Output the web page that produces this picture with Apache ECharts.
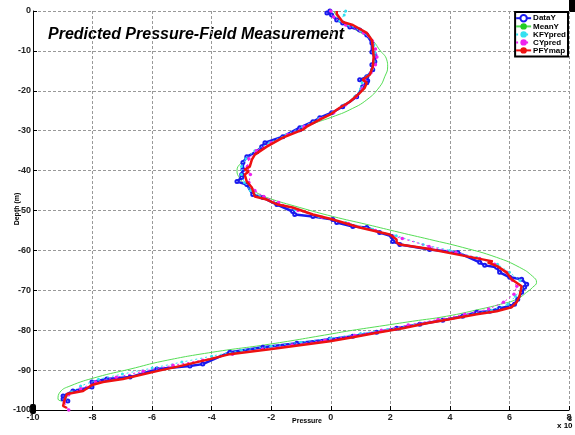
<!DOCTYPE html>
<html>
<head>
<meta charset="utf-8">
<script src="https://cdn.jsdelivr.net/npm/echarts@6/dist/echarts.min.js"></script>
<style>
  html, body { margin: 0; padding: 0; background: #fff; }
  #chart { width: 575px; height: 435px; }
</style>
</head>
<body>
<div id="chart"></div>
<script>
/*x轴刻度和y轴刻度*/
var xTicks = [-10, -8, -6, -4, -2, 0, 2, 4, 6, 8];
var yTicks = [0, -10, -20, -30, -40, -50, -60, -70, -80, -90, -100];
var legendNames = ['DataY', 'MeanY', 'KFYpred', 'CYpred', 'PFYmap'];

/*测量数据 [pressure(x1e8), depth]*/
var dataY = [[-0.03,0],[-0.13,-0.5],[0.03,-1],[0.2,-2.25],[0.4,-3],[0.64,-4],[0.97,-4.75],[1.21,-6],[1.38,-8],[1.38,-10.25],[1.48,-11],[1.48,-12.75],[1.38,-13.5],[1.41,-14.75],[1.21,-16.5],[0.97,-17.25],[1.24,-17.5],[1.21,-18],[1.07,-19],[0.87,-21.5],[0.4,-24],[0.03,-25.5],[-0.37,-26.75],[-0.6,-27.75],[-1.04,-29.25],[-1.04,-29.75],[-1.61,-31.5],[-2.21,-33],[-2.32,-34],[-2.48,-35.25],[-2.82,-36.5],[-2.95,-38],[-2.95,-39.75],[-2.99,-41],[-2.99,-41.75],[-3.15,-42.75],[-2.82,-43.5],[-2.62,-46],[-2.28,-46.75],[-1.81,-48.5],[-1.28,-50.25],[-1.21,-51],[-0.6,-51.5],[0.07,-52.25],[0.2,-53],[0.74,-54],[1.21,-54.25],[1.64,-55.5],[2.05,-56.5],[2.08,-57.75],[2.32,-58.5],[3.32,-59.75],[4.26,-60.5],[5.0,-63],[5.17,-63.75],[5.57,-64.25],[5.67,-65.5],[6.01,-66.75],[6.41,-67.25],[6.58,-68.5],[6.51,-69.25],[6.41,-70.5],[6.28,-72.25],[6.17,-73.5],[6.01,-74],[5.67,-74.5],[5.34,-75.25],[4.9,-75.5],[4.43,-76.5],[3.76,-77.5],[2.99,-78.5],[2.21,-79.5],[1.54,-80.5],[0.74,-81.5],[-0.03,-82.25],[-1.14,-83.25],[-2.28,-84.25],[-3.39,-85.5],[-4.3,-88.5],[-4.73,-89],[-5.84,-89.75],[-6.74,-91.75],[-7.52,-92.25],[-8.02,-93],[-8.02,-94.25],[-8.66,-95.25],[-8.99,-96.5],[-8.99,-97.25],[-8.83,-97.75]];

var meanY = [[0.1,0],[0.35,-2.5],[0.9,-5],[1.38,-7.25],[1.64,-9.75],[1.88,-12.25],[1.91,-14],[1.81,-16.5],[1.64,-19],[1.21,-22.25],[0.64,-24.75],[0.07,-26.5],[-0.5,-28],[-1.0,-29.5],[-1.6,-31.5],[-2.2,-33.5],[-2.7,-36],[-3.0,-38],[-3.15,-40],[-3.05,-42],[-2.8,-44],[-2.5,-45.5],[-2.15,-46.75],[-1.04,-49.25],[0.07,-51.5],[1.21,-53.5],[2.32,-55.5],[3.32,-57.25],[4.43,-59.25],[5.57,-61.75],[6.34,-64.25],[6.78,-66.5],[6.91,-68],[6.78,-69.25],[6.58,-70.5],[6.24,-72.25],[5.7,-73.5],[5.0,-74.75],[3.89,-76.5],[2.75,-77.75],[1.64,-79],[0.54,-80.25],[-0.03,-81],[-2.05,-83.5],[-3.96,-85.5],[-5.64,-87.75],[-6.74,-89.75],[-7.85,-91.75],[-8.76,-94],[-9.09,-95.5],[-9.16,-97.25],[-9.03,-97.75]];

var kfYpred = [[0.5,0],[0.45,-1],[0.3,-2.5],[0.6,-3.5],[1.0,-5],[1.3,-6.5],[1.45,-8.5],[1.5,-10.5],[1.45,-12.5],[1.4,-14.5],[1.2,-16.5],[1.05,-18],[1.0,-19.5],[0.8,-21.5],[0.45,-23.5],[0.05,-25.5],[-0.4,-27],[-0.95,-29],[-1.5,-31],[-2.05,-33],[-2.55,-35],[-2.85,-37],[-3.0,-39],[-3.0,-41],[-2.9,-43],[-2.7,-45],[-2.4,-46.5],[-1.9,-48],[-1.2,-49.8],[-0.4,-51.5],[0.5,-53],[1.4,-54.7],[2.2,-56.3],[3.1,-58.5],[4.0,-60],[4.9,-61.8],[5.6,-63.5],[6.0,-65.5],[6.35,-67.5],[6.4,-69.5],[6.2,-71.5],[5.95,-73.5],[5.4,-75],[4.6,-76.2],[3.7,-77.5],[2.8,-78.7],[1.9,-79.8],[1.0,-80.8],[0.0,-82],[-1.0,-83],[-2.0,-84],[-3.0,-85],[-4.0,-86.5],[-5.0,-88],[-6.0,-89.5],[-7.0,-91],[-7.8,-92.3],[-8.4,-94],[-8.7,-95.5],[-8.9,-97]];

var cYpred = [[0.0,0],[0.1,-1.5],[0.5,-3.5],[1.1,-5.5],[1.4,-7.5],[1.5,-9.5],[1.55,-11.5],[1.5,-13.5],[1.35,-15.5],[1.15,-17.5],[1.05,-19.5],[0.85,-21.5],[0.5,-23.5],[0.1,-25.5],[-0.35,-27],[-0.9,-29],[-1.45,-31],[-2.0,-33],[-2.5,-35],[-2.75,-37],[-2.8,-39],[-2.7,-41],[-2.75,-43],[-2.55,-45],[-2.25,-46.5],[-1.75,-48],[-1.1,-50],[-0.3,-51.7],[0.6,-53.3],[1.5,-55],[2.4,-57],[3.3,-59],[4.2,-60.5],[5.0,-62],[5.5,-63.5],[5.9,-65.5],[6.1,-67.5],[6.25,-69],[6.15,-71],[5.8,-73],[5.3,-74.7],[4.5,-76],[3.6,-77.3],[2.6,-78.7],[1.7,-80],[0.8,-81.3],[-0.2,-82.5],[-1.3,-83.7],[-2.3,-84.8],[-3.3,-86],[-4.3,-87.5],[-5.3,-88.8],[-6.3,-90.3],[-7.2,-91.8],[-7.9,-93],[-8.4,-94.7],[-8.8,-96.2],[-8.95,-98],[-8.8,-100]];

var pfYmap = [[0.2,0],[0.2,-0.75],[0.4,-2.75],[0.74,-3.5],[1.21,-5.5],[1.38,-7.25],[1.41,-9],[1.44,-11.5],[1.41,-14],[1.31,-16],[1.07,-17.25],[1.21,-18],[1.14,-19.25],[0.91,-21],[0.64,-22.75],[0.3,-24.25],[-0.03,-26],[-0.37,-27.25],[-0.81,-29],[-0.94,-29.75],[-1.61,-31.75],[-2.15,-34],[-2.55,-36],[-2.65,-37.25],[-2.72,-39],[-2.89,-39.75],[-2.75,-40.25],[-2.89,-41],[-2.82,-42.75],[-2.65,-44.25],[-2.55,-46.5],[-2.15,-47.25],[-1.78,-48.5],[-1.28,-49.25],[-0.6,-51],[0.07,-52.25],[0.97,-54.25],[1.98,-56],[2.21,-57.25],[2.21,-58],[2.32,-58.5],[3.22,-59.5],[4.23,-61],[5.44,-62.75],[5.27,-63],[5.6,-64],[5.9,-65.5],[6.07,-67.25],[6.41,-69],[6.44,-69.25],[6.34,-71.5],[6.24,-73],[6.07,-74.25],[5.57,-75.25],[4.9,-76],[3.99,-77.25],[3.22,-78.25],[2.42,-79.5],[1.64,-80.5],[0.74,-81.75],[-0.03,-82.75],[-2.05,-84.75],[-3.39,-86],[-4.06,-87.25],[-5.07,-89],[-5.84,-90.25],[-6.98,-92.25],[-7.65,-93],[-8.02,-93.75],[-8.32,-95.25],[-8.86,-96],[-8.93,-97.25],[-8.99,-99],[-8.86,-99.5]];

var font = 'Liberation Sans, Arial, sans-serif';

var chart = echarts.init(document.getElementById('chart'));
var option = {
  animation: false,
  backgroundColor: '#fff',
  grid: { left: 33, right: 6, top: 11, bottom: 25, containLabel: false },
  legend: {
    data: legendNames,
    orient: 'vertical',
    right: 7,
    top: 12,
    itemGap: 0,
    itemWidth: 15,
    itemHeight: 8,
    padding: [2, 2, 2, 0],
    borderColor: '#000',
    borderWidth: 2,
    backgroundColor: '#fff',
    textStyle: { fontSize: 8, fontWeight: 'bold', fontFamily: font, color: '#000', padding: [0, 0, 0, -3] }
  },
  xAxis: {
    type: 'value',
    min: -10, max: 8, interval: 2,
    axisLine: { onZero: false, lineStyle: { color: '#000', width: 1 } },
    axisTick: { inside: true, length: 4, lineStyle: { color: '#000' } },
    axisLabel: { fontSize: 9, fontWeight: 'bold', fontFamily: font, color: '#222', margin: 3 },
    splitLine: { show: true, lineStyle: { color: '#999', type: [3, 2], width: 1 } }
  },
  yAxis: {
    type: 'value',
    min: -100, max: 0, interval: 10,
    axisLine: { onZero: false, lineStyle: { color: '#000', width: 1 } },
    axisTick: { inside: true, length: 4, lineStyle: { color: '#000' } },
    axisLabel: { fontSize: 9, fontWeight: 'bold', fontFamily: font, color: '#222', margin: 2 },
    splitLine: { show: true, lineStyle: { color: '#999', type: [3, 2], width: 1 } }
  },
  graphic: [
    { type: 'text', left: 48, top: 27, style: { text: 'Predicted Pressure-Field Measurement', font: 'italic bold 16px ' + font, fill: '#000' } },
    { type: 'text', x: 17, y: 209, rotation: Math.PI / 2, style: { text: 'Depth (m)', font: 'bold 7px ' + font, fill: '#000', align: 'center', verticalAlign: 'middle' } },
    { type: 'text', left: 292, top: 418, style: { text: 'Pressure', font: 'bold 7px ' + font, fill: '#000' } },
    { type: 'text', left: 557, top: 422, style: { text: 'x 10', font: 'bold 8px ' + font, fill: '#000' } },
    { type: 'text', left: 568, top: 416, style: { text: '8', font: 'bold 7px ' + font, fill: '#000' } },
    { type: 'rect', shape: { x: 569, y: 0, width: 6, height: 12 }, style: { fill: '#000' } },
    { type: 'rect', shape: { x: 30, y: 404, width: 6, height: 10, r: 2 }, style: { fill: '#000' } }
  ],
  series: [
    {
      name: 'MeanY', type: 'line', smooth: true, data: meanY, z: 1,
      showSymbol: false, symbol: 'circle', symbolSize: 3,
      itemStyle: { color: '#22cc22' },
      lineStyle: { color: '#55dd55', width: 1 }
    },
    {
      name: 'DataY', type: 'line', data: dataY, z: 2,
      symbol: 'emptyCircle', symbolSize: 3,
      itemStyle: { color: '#1a1aee', borderWidth: 1 },
      lineStyle: { color: '#1a1aee', width: 2.5 }
    },
    {
      name: 'KFYpred', type: 'line', data: kfYpred, z: 3,
      symbol: 'circle', symbolSize: 3,
      itemStyle: { color: '#33e0f0' },
      lineStyle: { color: '#33e0f0', width: 1, type: [2, 3] }
    },
    {
      name: 'CYpred', type: 'line', data: cYpred, z: 4,
      symbol: 'circle', symbolSize: 3.5,
      itemStyle: { color: '#ee22ee' },
      lineStyle: { color: '#ee22ee', width: 1, type: [2, 3] }
    },
    {
      name: 'PFYmap', type: 'line', data: pfYmap, z: 5,
      showSymbol: false, symbol: 'none',
      itemStyle: { color: '#ee1111' },
      lineStyle: { color: '#ee1111', width: 2.5 }
    }
  ]
};
chart.setOption(option);
</script>
</body>
</html>
